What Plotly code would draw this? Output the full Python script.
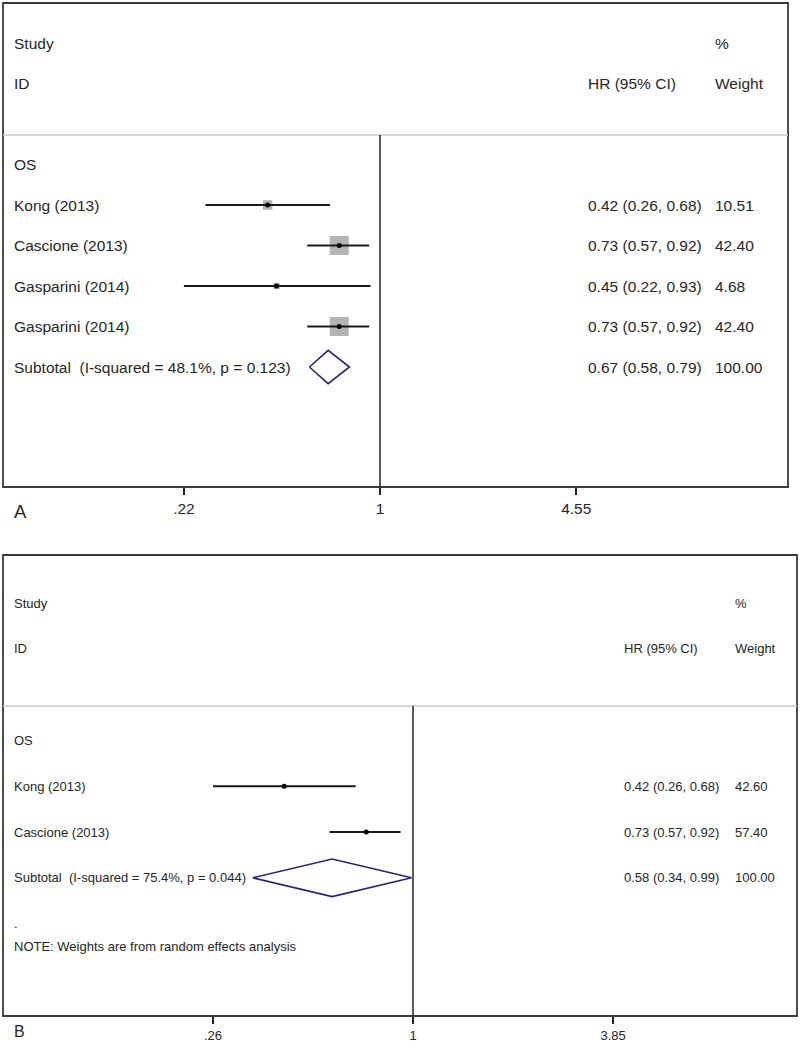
import math
import plotly.graph_objects as go

# ---------------- data ----------------
A_studies = ["Kong (2013)", "Cascione (2013)", "Gasparini (2014)", "Gasparini (2014)"]
A_hr = [0.42, 0.73, 0.45, 0.73]
A_lo = [0.26, 0.57, 0.22, 0.57]
A_hi = [0.68, 0.92, 0.93, 0.92]
A_weight = [10.51, 42.40, 4.68, 42.40]
A_sub_label = "Subtotal\u00a0\u00a0(I-squared = 48.1%, p = 0.123)"
A_sub = [0.67, 0.58, 0.79]
A_sub_weight = 100.00
A_ticks = [0.22, 1, 4.55]
A_ticktext = [".22", "1", "4.55"]

B_studies = ["Kong (2013)", "Cascione (2013)"]
B_hr = [0.42, 0.73]
B_lo = [0.26, 0.57]
B_hi = [0.68, 0.92]
B_weight = [42.60, 57.40]
B_sub_label = "Subtotal\u00a0 (I-squared = 75.4%, p = 0.044)"
B_sub = [0.58, 0.34, 0.99]
B_sub_weight = 100.00
B_ticks = [0.26, 1, 3.85]
B_ticktext = [".26", "1", "3.85"]
B_note = "NOTE: Weights are from random effects analysis"

# ---------------- layout helpers ----------------
W, H = 800, 1049
FONT = "Liberation Sans, Arial, sans-serif"
TXT = "#262626"


def px(x):
    return x / W


def py(y):
    return 1 - y / H


fig = go.Figure()
shapes = []
annotations = []


def panel(ax, studies, hr, lo, hi, wt, sub_label, sub, sub_w, ticks, ticktext,
          box, row0, rowstep, nullx, pxlog, fsize, col_hr, col_w, letter, letter_pos,
          show_boxes, note=None):
    xa = "x" if ax == 1 else "x2"
    ya = "y" if ax == 1 else "y2"
    x0, y0, x1, y1 = box
    r0 = (x0 - nullx) / pxlog
    r1 = (x1 - nullx) / pxlog
    top = (y0 - row0) / rowstep
    bot = (y1 - row0) / rowstep
    lay_x = dict(type="log", range=[r0, r1], domain=[px(x0), px(x1)],
                 tickvals=ticks, ticktext=ticktext, ticks="outside", ticklen=7,
                 tickcolor="#222", tickwidth=1.6, showgrid=False, zeroline=False,
                 showline=False, tickfont=dict(family=FONT, size=fsize, color=TXT),
                 anchor=ya, fixedrange=True)
    lay_y = dict(range=[bot, top], domain=[py(y1), py(y0)], showgrid=False,
                 zeroline=False, showticklabels=False, ticks="", showline=False,
                 anchor=xa, fixedrange=True)
    key = "" if ax == 1 else "2"
    fig.update_layout(**{"xaxis" + key: lay_x, "yaxis" + key: lay_y})

    sep_y = 2.27 if ax == 1 else 2.25
    shapes.append(dict(type="rect", xref="paper", yref="paper", x0=px(x0), x1=px(x1),
                       y0=py(y0), y1=py(y1), line=dict(color="#3a3a3a", width=1.8)))
    shapes.append(dict(type="line", xref="paper", yref=ya, x0=px(x0), x1=px(x1),
                       y0=sep_y, y1=sep_y, line=dict(color="#c8c8c8", width=1.5)))
    shapes.append(dict(type="line", xref=xa, yref=ya, x0=1, x1=1, y0=sep_y, y1=bot,
                       line=dict(color="#222", width=1.5)))

    def t(x, y, s, size=fsize):
        annotations.append(dict(xref="paper", yref=ya, x=px(x), y=y, text=s,
                                showarrow=False, xanchor="left", yanchor="middle",
                                font=dict(family=FONT, size=size, color=TXT)))

    lx = 12
    t(lx, 0, "Study")
    t(lx, 1, "ID")
    t(col_w, 0, "%")
    t(col_hr, 1, "HR (95% CI)")
    t(col_w, 1, "Weight")
    t(lx, 3, "OS")

    rows = list(range(4, 4 + len(studies)))
    maxw = max(wt)
    for i, r in enumerate(rows):
        if show_boxes:
            fig.add_trace(go.Scatter(x=[hr[i]], y=[r], mode="markers", xaxis=xa, yaxis=ya,
                                     marker=dict(symbol="square", color="#b4b4b4",
                                                 size=19 * math.sqrt(wt[i] / maxw)),
                                     hoverinfo="skip", showlegend=False))
        fig.add_trace(go.Scatter(x=[lo[i], hi[i]], y=[r, r], mode="lines", xaxis=xa, yaxis=ya,
                                 line=dict(color="#1a1a1a", width=2),
                                 hoverinfo="skip", showlegend=False))
        fig.add_trace(go.Scatter(x=[hr[i]], y=[r], mode="markers", xaxis=xa, yaxis=ya,
                                 marker=dict(symbol="circle", color="#000", size=5),
                                 hoverinfo="skip", showlegend=False))
        t(lx, r, studies[i])
        t(col_hr, r, f"{hr[i]:.2f} ({lo[i]:.2f}, {hi[i]:.2f})")
        t(col_w, r, f"{wt[i]:.2f}")

    rs = rows[-1] + 1
    est, slo, shi = sub
    h = 0.41
    fig.add_trace(go.Scatter(x=[slo, est, shi, est, slo], y=[rs, rs - h, rs, rs + h, rs],
                             mode="lines", xaxis=xa, yaxis=ya,
                             line=dict(color="#26266e", width=1.6),
                             hoverinfo="skip", showlegend=False))
    t(lx, rs, sub_label)
    t(col_hr, rs, f"{est:.2f} ({slo:.2f}, {shi:.2f})")
    t(col_w, rs, f"{sub_w:.2f}")
    if note:
        t(lx, rs + 1, ".")
        t(lx, rs + 1.5, note)

    annotations.append(dict(xref="paper", yref="paper", x=px(letter_pos[0]), y=py(letter_pos[1]),
                            text=letter, showarrow=False, xanchor="left", yanchor="middle",
                            font=dict(family=FONT, size=fsize + 3, color=TXT)))


panel(1, A_studies, A_hr, A_lo, A_hi, A_weight, A_sub_label, A_sub, A_sub_weight,
      A_ticks, A_ticktext, box=(3, 3, 788, 487), row0=43, rowstep=40.5, nullx=380,
      pxlog=298.2, fsize=15.5, col_hr=586, col_w=713, letter="A", letter_pos=(12, 511),
      show_boxes=True)

panel(2, B_studies, B_hr, B_lo, B_hi, B_weight, B_sub_label, B_sub, B_sub_weight,
      B_ticks, B_ticktext, box=(3, 555, 797, 1016), row0=603, rowstep=45.8, nullx=413,
      pxlog=341.9, fsize=13, col_hr=622, col_w=733, letter="B", letter_pos=(12, 1031),
      show_boxes=False, note=B_note)

fig.update_layout(width=W, height=H, margin=dict(l=0, r=0, t=0, b=0), autosize=False,
                  paper_bgcolor="white", plot_bgcolor="white",
                  shapes=shapes, annotations=annotations, showlegend=False)

fig.write_html("out.html", post_script="document.body.style.margin='0';",
               config={"displayModeBar": False})
